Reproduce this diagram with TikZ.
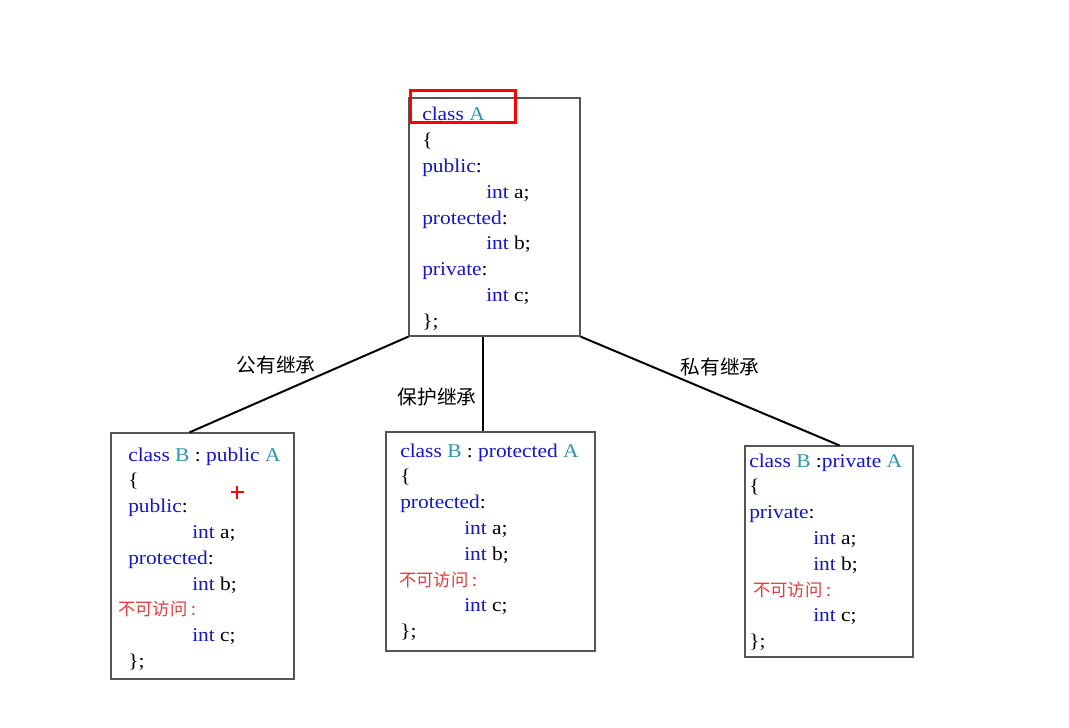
\documentclass[tikz,border=0pt]{standalone}
\usepackage{fontspec}
\setmainfont{Liberation Serif}[FakeStretch=1.1]
\newfontfamily\cjk{Noto Sans CJK SC}
\definecolor{kwc}{RGB}{20,20,200}
\definecolor{clsc}{RGB}{45,150,175}
\definecolor{nacc}{RGB}{225,60,60}
\definecolor{bdc}{RGB}{85,85,85}
\newcommand\kw[1]{\textcolor{kwc}{#1}}
\newcommand\cl[1]{\textcolor{clsc}{#1}}
\newcommand\ind{\hspace*{48pt}}
\newcommand\na{{\cjk\fontsize{13}{19.35}\selectfont\textcolor{nacc}{不可访问 :}}}
\begin{document}
\begin{tikzpicture}[x=0.75pt,y=-0.75pt,
  box/.style={draw=bdc,line width=0.9pt,inner sep=0pt},
  code/.style={anchor=base west,inner sep=0pt,font=\fontsize{14.6}{19.35}\selectfont},
  link/.style={line width=1.5pt},
  lab/.style={font=\cjk\fontsize{14.8}{17}\selectfont,inner sep=0pt}]
\useasboundingbox (0,0) rectangle (1069,727);
\fill[white] (0,0) rectangle (1069,727);
% boxes
\node[box,minimum width=128.25pt,minimum height=178.5pt] (A) at (494.5,217) {};
\node[box,minimum width=137.25pt,minimum height=184.5pt] (B1) at (202.5,556) {};
\node[box,minimum width=156.75pt,minimum height=164.25pt] (B2) at (490.5,541.5) {};
\node[box,minimum width=126pt,minimum height=158.25pt] (B3) at (829,551.5) {};
% code texts
\node[code] (tA) at (422,121) {\begin{tabular}[t]{@{}l@{}}
\kw{class} \cl{A}\\
\{\\
\kw{public}:\\
\ind\kw{int} a;\\
\kw{protected}:\\
\ind\kw{int} b;\\
\kw{private}:\\
\ind\kw{int} c;\\
\};
\end{tabular}};
\node[code] (tB1) at (128,461) {\begin{tabular}[t]{@{}l@{}}
\kw{class} \cl{B} : \kw{public} \cl{A}\\
\{\\
\kw{public}:\\
\ind\kw{int} a;\\
\kw{protected}:\\
\ind\kw{int} b;\\
\hspace*{-7.5pt}\na\\
\ind\kw{int} c;\\
\};
\end{tabular}};
\node[code] (tB2) at (400,457) {\begin{tabular}[t]{@{}l@{}}
\kw{class} \cl{B} : \kw{protected} \cl{A}\\
\{\\
\kw{protected}:\\
\ind\kw{int} a;\\
\ind\kw{int} b;\\
\hspace*{-0.75pt}\na\\
\ind\kw{int} c;\\
\};
\end{tabular}};
\node[code] (tB3) at (749,467) {\begin{tabular}[t]{@{}l@{}}
\kw{class} \cl{B} :\kw{private} \cl{A}\\
\{\\
\kw{private}:\\
\ind\kw{int} a;\\
\ind\kw{int} b;\\
\hspace*{3pt}\na\\
\ind\kw{int} c;\\
\};
\end{tabular}};
% connectors
\coordinate (e1) at ([xshift=59.25pt]B1.north west);
\coordinate (s2) at ([xshift=-8.6pt]A.south);
\coordinate (e3) at ([xshift=71.25pt]B3.north west);
\draw[link] (A.south west) -- (e1);
\draw[link] (s2) -- (s2 |- B2.north);
\draw[link] (A.south east) -- (e3);
% labels
\node[lab] (l1) at (276,365) {公有继承};
\node[lab] (l2) at (437,397) {保护继承};
\node[lab] (l3) at (720,367) {私有继承};
% highlight
\node[draw=red,line width=2.25pt,minimum width=78.75pt,minimum height=24pt,inner sep=0pt] (hl) at (462.5,107) {};
\draw[red,line width=2.2pt] (230.5,492) -- (243.5,492) (237,485.5) -- (237,498.5);
\end{tikzpicture}
\end{document}
